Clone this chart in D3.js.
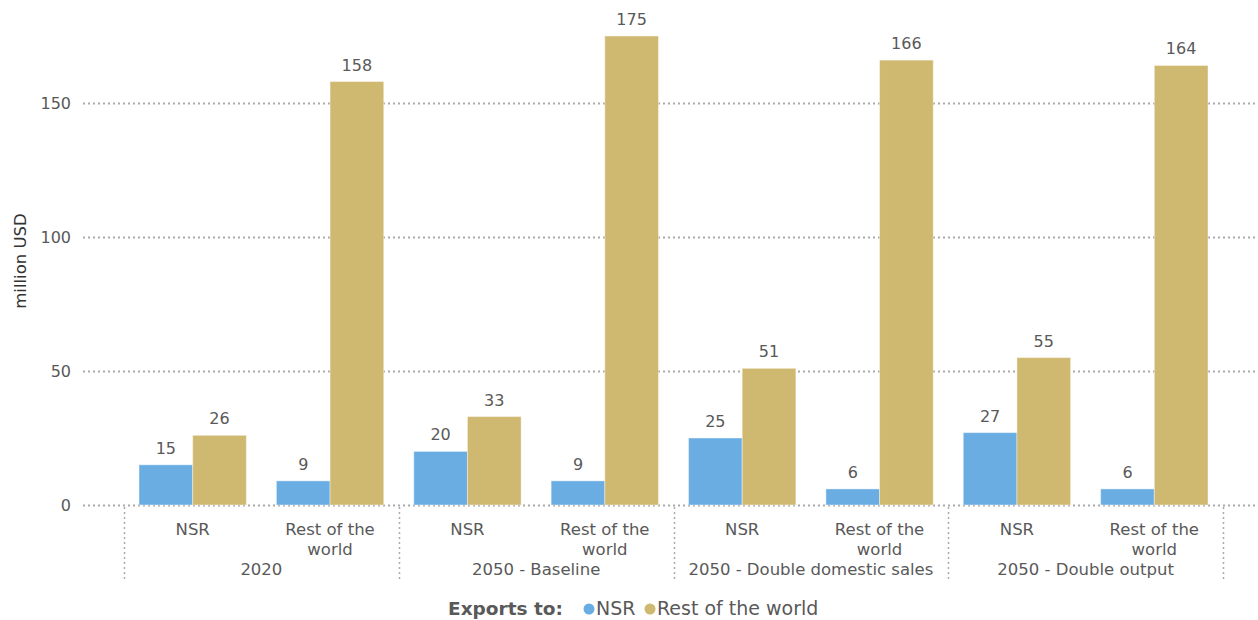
<!DOCTYPE html>
<html>
<head>
<meta charset="utf-8">
<script src="https://cdn.jsdelivr.net/npm/d3@7"></script>
<style>
  html, body { margin: 0; padding: 0; background: #fff; }
  svg { display: block; font-family: "DejaVu Sans", Verdana, sans-serif; }
</style>
</head>
<body>
<svg id="chart" width="1258" height="620"></svg>
<script>
// Scenarios (outer groups) and destinations (inner categories)
const scenarios = ["2020", "2050 - Baseline", "2050 - Double domestic sales", "2050 - Double output"];
const destinations = ["NSR", "Rest of the world"];
const seriesNames = ["NSR", "Rest of the world"];
const seriesColors = ["#6aade3", "#cfb870"];
// Values per scenario, per destination, per series [NSR, Rest of the world]
const nsrValues = [[15, 9], [20, 9], [25, 6], [27, 6]];
const rowValues = [[26, 158], [33, 175], [51, 166], [55, 164]];
const yTicks = [0, 50, 100, 150];
const yTitle = "million USD";
const legendTitle = "Exports to:";

const svg = d3.select("#chart");
const textColor = "#595959";
const fontSize = 16;

const plotLeft = 124, plotRight = 1223, plotBottom = 505;
const gridLeft = 83, gridRight = 1258;

const y = d3.scaleLinear().domain([0, 180]).range([plotBottom, plotBottom - 180 * (402 / 150)]);
const xOuter = d3.scaleBand().domain(scenarios).range([plotLeft, plotRight]).padding(0);
const xInner = d3.scaleBand().domain(destinations).range([0, xOuter.bandwidth()]).paddingInner(0).paddingOuter(0);
const xSeries = d3.scaleBand().domain(seriesNames).range([0, xInner.bandwidth()]).paddingInner(0).paddingOuter(0.28);

// Horizontal dotted grid lines and y tick labels
const yAxis = d3.axisLeft(y).tickValues(yTicks).tickSize(0).tickPadding(12);
const yG = svg.append("g").attr("transform", `translate(${gridLeft},0)`).call(yAxis);
yG.select(".domain").remove();
yG.selectAll("text").attr("fill", textColor).attr("font-size", fontSize).attr("font-family", "DejaVu Sans, Verdana, sans-serif");
svg.append("g").selectAll("line").data(yTicks).join("line")
  .attr("x1", gridLeft).attr("x2", gridRight)
  .attr("y1", d => y(d) + 0.5).attr("y2", d => y(d) + 0.5)
  .attr("stroke", "#aaa").attr("stroke-width", 2)
  .attr("stroke-dasharray", "2,3");

// Y axis title
svg.append("text")
  .attr("transform", `translate(26,${261}) rotate(-90)`)
  .attr("text-anchor", "middle")
  .attr("font-size", 16.5)
  .attr("fill", "#333")
  .text(yTitle);

// Bars
const data = [];
scenarios.forEach((s, i) => {
  destinations.forEach((d, j) => {
    data.push({ scenario: s, dest: d, series: seriesNames[0], value: nsrValues[i][j] });
    data.push({ scenario: s, dest: d, series: seriesNames[1], value: rowValues[i][j] });
  });
});
const colorOf = d3.scaleOrdinal().domain(seriesNames).range(seriesColors);
const barX = d => xOuter(d.scenario) + xInner(d.dest) + xSeries(d.series);

svg.append("g").selectAll("rect").data(data).join("rect")
  .attr("x", barX)
  .attr("y", d => y(d.value))
  .attr("width", xSeries.bandwidth())
  .attr("height", d => y(0) - y(d.value))
  .attr("fill", d => colorOf(d.series))
  .attr("stroke", "#fff").attr("stroke-opacity", 0.4).attr("stroke-width", 1);

// Value labels
svg.append("g").selectAll("text").data(data).join("text")
  .attr("x", d => barX(d) + xSeries.bandwidth() / 2)
  .attr("y", d => y(d.value) - 11)
  .attr("text-anchor", "middle")
  .attr("font-size", fontSize)
  .attr("fill", textColor)
  .text(d => d.value);

// Group separators (dotted vertical lines)
const seps = scenarios.map(s => xOuter(s)).concat([plotRight]);
svg.append("g").selectAll("line").data(seps).join("line")
  .attr("x1", d => Math.round(d) + 0.5).attr("x2", d => Math.round(d) + 0.5)
  .attr("y1", plotBottom + 2).attr("y2", 582)
  .attr("stroke", "#aaa").attr("stroke-width", 1.5)
  .attr("stroke-dasharray", "2,3");

// Inner category labels
const innerG = svg.append("g");
scenarios.forEach(s => {
  destinations.forEach(d => {
    const cx = xOuter(s) + xInner(d) + xInner.bandwidth() / 2;
    const lines = d === "Rest of the world" ? ["Rest of the", "world"] : [d];
    const t = innerG.append("text")
      .attr("x", cx).attr("y", 535)
      .attr("text-anchor", "middle")
      .attr("font-size", 16.5)
      .attr("fill", textColor);
    lines.forEach((ln, k) => t.append("tspan").attr("x", cx).attr("dy", k ? 20 : 0).text(ln));
  });
});

// Outer group labels
svg.append("g").selectAll("text").data(scenarios).join("text")
  .attr("x", s => xOuter(s) + xOuter.bandwidth() / 2)
  .attr("y", 575)
  .attr("text-anchor", "middle")
  .attr("font-size", 16.5)
  .attr("fill", textColor)
  .text(s => s);

// Legend
const leg = svg.append("g").attr("transform", "translate(0,615)");
leg.append("text").attr("x", 448).attr("font-size", 18.5).attr("font-weight", "bold")
  .attr("fill", textColor).text(legendTitle);
const items = [{ name: seriesNames[0], x: 589 }, { name: seriesNames[1], x: 650 }];
items.forEach((it, i) => {
  leg.append("circle").attr("cx", it.x).attr("cy", -6).attr("r", 5.5).attr("fill", seriesColors[i]);
  leg.append("text").attr("x", it.x + 7).attr("font-size", 19).attr("fill", textColor).text(it.name);
});
</script>
</body>
</html>
